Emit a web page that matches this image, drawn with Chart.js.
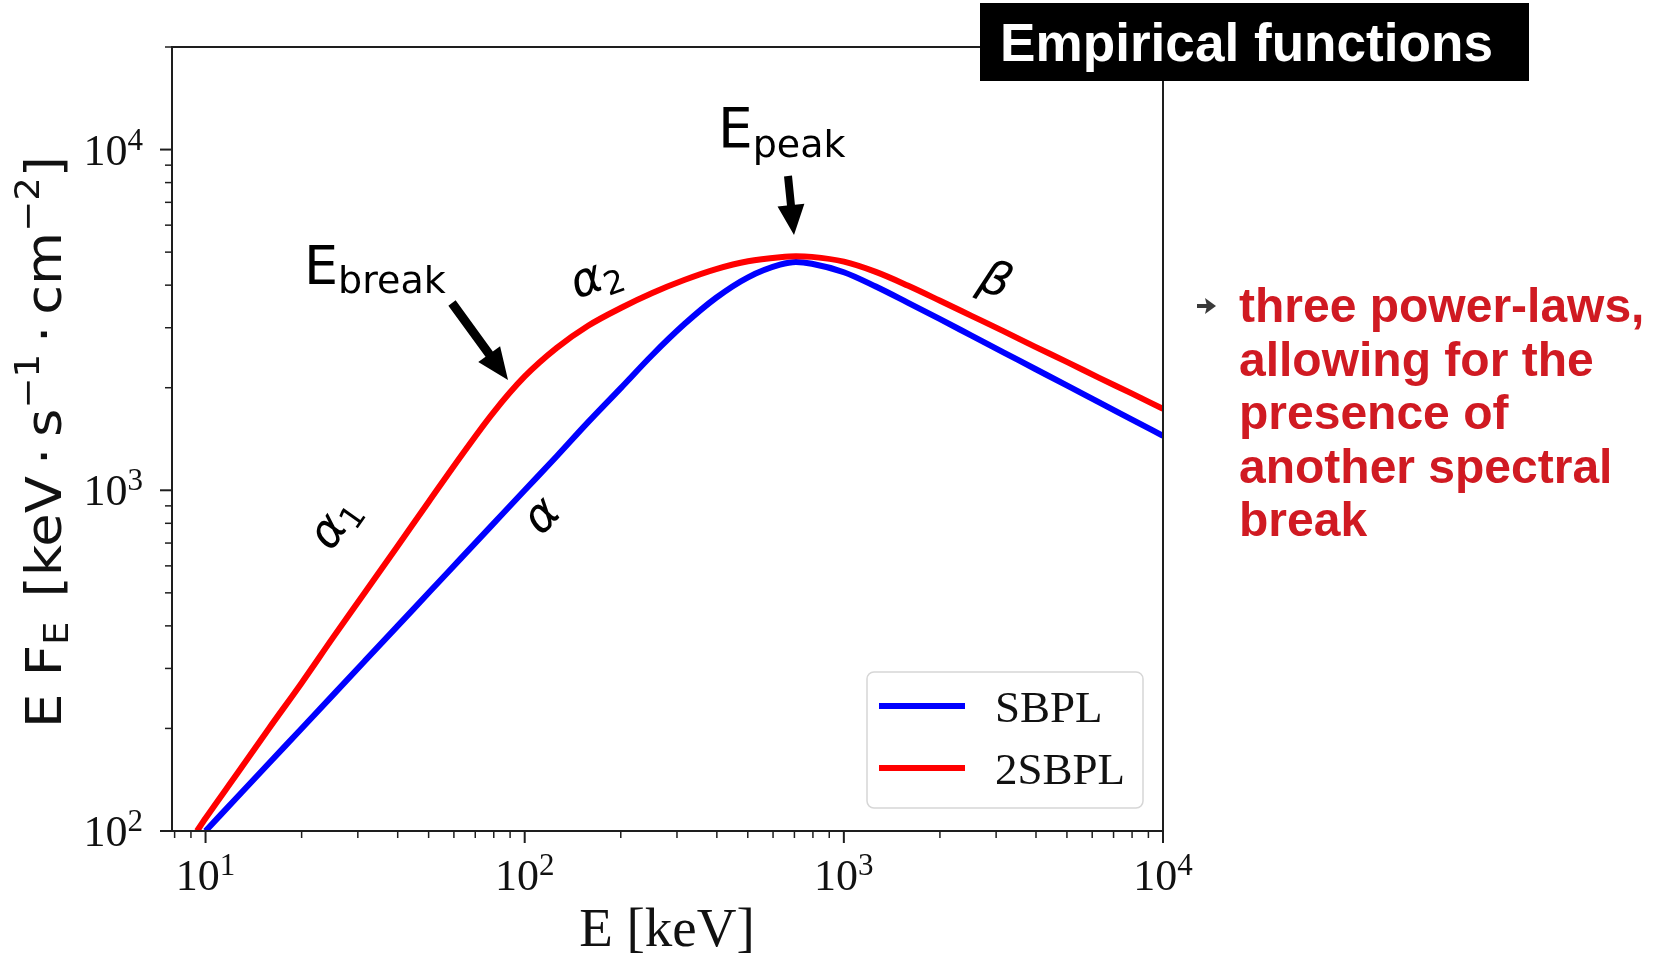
<!DOCTYPE html>
<html><head><meta charset="utf-8">
<script src="https://cdn.jsdelivr.net/npm/chart.js@4.4.0/dist/chart.umd.min.js"></script>
<style>html,body{margin:0;padding:0;background:#fff;overflow:hidden}#wrap{position:relative;width:1654px;height:956px}</style>
</head><body><div id="wrap"><canvas id="c" width="1654" height="956"></canvas></div>
<script>
// ---- data ----
const energySBPL = [10, 12.6, 15.8, 20, 25.1, 31.6, 39.8, 50.1, 63.1, 79.4, 100, 126, 158, 200, 251, 316, 398, 501, 631, 708, 794, 1000, 1259, 1585, 1995, 2512, 3162, 3981, 5012, 6310, 7943, 10000];
const fluxSBPL   = [100, 126, 158, 200, 251, 316, 398, 501, 631, 794, 1000, 1259, 1585, 1995, 2495, 3069, 3673, 4217, 4592, 4677, 4624, 4365, 3963, 3556, 3184, 2844, 2541, 2270, 2028, 1811, 1618, 1445];
const energy2SBPL = [9.4, 10, 12.6, 15.8, 20, 25.1, 31.6, 39.8, 50.1, 63.1, 79.4, 100, 126, 158, 200, 251, 316, 398, 501, 631, 708, 794, 1000, 1259, 1585, 1995, 2512, 3162, 3981, 5012, 6310, 7943, 10000];
const flux2SBPL   = [100, 109, 148, 200, 272, 370, 502, 682, 927, 1259, 1683, 2158, 2618, 3041, 3428, 3793, 4140, 4457, 4699, 4831, 4864, 4842, 4688, 4375, 3990, 3606, 3251, 2931, 2636, 2377, 2138, 1928, 1734];
const seriesLabels = ['SBPL', '2SBPL'];
const seriesColors = ['#0000ff', '#ff0000'];
const xTickValues = [10, 100, 1000, 10000];
const xTickExponents = ['1', '2', '3', '4'];
const yTickValues = [100, 1000, 10000];
const yTickExponents = ['2', '3', '4'];
const xRange = [7.85, 10000];
const yRange = [100, 20000];
const titleText = 'Empirical functions';
const noteLines = ['three power-laws,', 'allowing for the', 'presence of', 'another spectral', 'break'];

function richWidth(ctx, segs) {
  let w = 0;
  for (const s of segs) { ctx.font = s.font; w += ctx.measureText(s.t).width + (s.dx || 0); }
  return w;
}
function drawRich(ctx, segs, x, y, align) {
  const w = richWidth(ctx, segs);
  let cx = align === 'center' ? x - w / 2 : align === 'right' ? x - w : x;
  ctx.textAlign = 'left';
  for (const s of segs) {
    ctx.font = s.font;
    ctx.fillText(s.t, cx, y + (s.dy || 0));
    cx += ctx.measureText(s.t).width + (s.dx || 0);
  }
}
function drawArrow(ctx, x0, y0, x1, y1, shaftW, headL, headW) {
  const dx = x1 - x0, dy = y1 - y0, L = Math.hypot(dx, dy);
  const ux = dx / L, uy = dy / L, nx = -uy, ny = ux;
  const bx = x1 - ux * headL, by = y1 - uy * headL;
  ctx.beginPath();
  ctx.moveTo(x0 + nx * shaftW / 2, y0 + ny * shaftW / 2);
  ctx.lineTo(bx + nx * shaftW / 2, by + ny * shaftW / 2);
  ctx.lineTo(bx + nx * headW / 2, by + ny * headW / 2);
  ctx.lineTo(x1, y1);
  ctx.lineTo(bx - nx * headW / 2, by - ny * headW / 2);
  ctx.lineTo(bx - nx * shaftW / 2, by - ny * shaftW / 2);
  ctx.lineTo(x0 - nx * shaftW / 2, y0 - ny * shaftW / 2);
  ctx.closePath();
  ctx.fill();
}
function rotLabel(ctx, segs, cx, cy, deg, baseOff) {
  ctx.save();
  ctx.translate(cx, cy);
  ctx.rotate(deg * Math.PI / 180);
  drawRich(ctx, segs, 0, baseOff, 'center');
  ctx.restore();
}

const decor = {
  id: 'decor',
  afterDraw(chart) {
    const ctx = chart.ctx;
    const { left, right, top, bottom } = chart.chartArea;
    const xs = chart.scales.x, ys = chart.scales.y;
    ctx.save();
    ctx.fillStyle = '#000';
    ctx.strokeStyle = '#1e1e1e';
    ctx.textBaseline = 'alphabetic';

    // frame
    ctx.lineWidth = 2;
    ctx.strokeRect(left, top, right - left, bottom - top);

    // ticks (major + minor) from the library scales
    const tickSet = (min, max) => {
      const out = [];
      for (let d = Math.floor(Math.log10(min)); d <= Math.ceil(Math.log10(max)); d++) {
        for (let m = 1; m <= 9; m++) {
          const v = m * Math.pow(10, d);
          if (v >= min * 0.9999 && v <= max * 1.0001) out.push({ v, major: m === 1 });
        }
      }
      return out;
    };
    for (const t of tickSet(xs.min, xs.max)) {
      const px = xs.getPixelForValue(t.v);
      ctx.lineWidth = t.major ? 2 : 1.5;
      ctx.beginPath(); ctx.moveTo(px, bottom); ctx.lineTo(px, bottom + (t.major ? 12 : 7)); ctx.stroke();
    }
    for (const t of tickSet(ys.min, ys.max)) {
      const py = ys.getPixelForValue(t.v);
      ctx.lineWidth = t.major ? 2 : 1.5;
      ctx.beginPath(); ctx.moveTo(left, py); ctx.lineTo(left - (t.major ? 12 : 7), py); ctx.stroke();
    }

    // tick labels
    ctx.fillStyle = '#111';
    xTickValues.forEach((v, i) => {
      const px = xs.getPixelForValue(v);
      drawRich(ctx, [{ t: '10', font: '44px "Liberation Serif"' }, { t: xTickExponents[i], font: '31px "Liberation Serif"', dy: -15 }], px, 890, 'center');
    });
    yTickValues.forEach((v, i) => {
      const py = ys.getPixelForValue(v);
      drawRich(ctx, [{ t: '10', font: '44px "Liberation Serif"' }, { t: yTickExponents[i], font: '31px "Liberation Serif"', dy: -15 }], 143, py + 15, 'right');
    });

    // axis titles
    ctx.fillStyle = '#111';
    drawRich(ctx, [{ t: 'E [keV]', font: '55px "Liberation Serif"' }], 667, 946, 'center');
    const ySegs = [
      { t: 'E F', font: '50px "DejaVu Sans"' },
      { t: 'E', font: '34px "DejaVu Sans"', dy: 7, dx: 22 },
      { t: '[keV\u2009\u00b7\u2009s', font: '50px "DejaVu Sans"' },
      { t: '\u22121', font: '34px "DejaVu Sans"', dy: -22 },
      { t: '\u2009\u00b7\u2009cm', font: '50px "DejaVu Sans"' },
      { t: '\u22122', font: '34px "DejaVu Sans"', dy: -22 },
      { t: ']', font: '50px "DejaVu Sans"' }
    ];
    ctx.save();
    ctx.translate(61, 442);
    ctx.rotate(-Math.PI / 2);
    const yw = richWidth(ctx, ySegs);
    ctx.scale(572 / yw, 1);
    drawRich(ctx, ySegs, 0, 0, 'center');
    ctx.restore();

    // annotations
    ctx.fillStyle = '#000';
    drawRich(ctx, [{ t: 'E', font: '54px "DejaVu Sans"' }, { t: 'break', font: '38px "DejaVu Sans"', dy: 9 }], 304, 284, 'left');
    drawRich(ctx, [{ t: 'E', font: '55px "DejaVu Sans"' }, { t: 'peak', font: '38px "DejaVu Sans"', dy: 10 }], 718, 147, 'left');
    drawArrow(ctx, 452, 303, 508, 380, 9, 32, 27);
    drawArrow(ctx, 788, 176, 794, 235, 8, 30, 27);
    rotLabel(ctx, [{ t: '\u03b1', font: 'italic 47px "DejaVu Sans"' }, { t: '1', font: '32px "DejaVu Sans"', dy: 8 }], 337, 525, -55, 11);
    rotLabel(ctx, [{ t: '\u03b1', font: 'italic 47px "DejaVu Sans"' }], 544, 518, -47, 11);
    rotLabel(ctx, [{ t: '\u03b1', font: 'italic 47px "DejaVu Sans"' }, { t: '2', font: '32px "DejaVu Sans"', dy: 8 }], 597, 280, -20, 11);
    rotLabel(ctx, [{ t: '\u03b2', font: 'italic 47px "DejaVu Sans"' }], 996, 279, 22, 16);

    // legend
    const lx = 867, ly = 672, lw = 276, lh = 136;
    ctx.beginPath();
    ctx.roundRect(lx, ly, lw, lh, 7);
    ctx.fillStyle = 'rgba(255,255,255,0.85)';
    ctx.fill();
    ctx.strokeStyle = '#d6d6d6';
    ctx.lineWidth = 1.5;
    ctx.stroke();
    chart.data.datasets.forEach((ds, i) => {
      const yy = 706 + i * 62;
      ctx.strokeStyle = ds.borderColor;
      ctx.lineWidth = 6;
      ctx.beginPath(); ctx.moveTo(879, yy); ctx.lineTo(965, yy); ctx.stroke();
      ctx.fillStyle = '#111';
      drawRich(ctx, [{ t: ds.label, font: '45px "Liberation Serif"' }], 995, yy + 16, 'left');
    });

    // title box
    ctx.fillStyle = '#000';
    ctx.fillRect(980, 3, 549, 78);
    ctx.fillStyle = '#fff';
    ctx.font = 'bold 53px "Liberation Sans"';
    const tw = ctx.measureText(titleText).width;
    ctx.save();
    ctx.translate(1000, 61);
    ctx.scale(493 / tw, 1);
    ctx.fillText(titleText, 0, 0);
    ctx.restore();

    // side note
    ctx.strokeStyle = '#3a3a3a';
    ctx.fillStyle = '#3a3a3a';
    ctx.lineWidth = 4;
    ctx.lineCap = 'butt';
    ctx.beginPath(); ctx.moveTo(1197, 306); ctx.lineTo(1208, 306); ctx.stroke();
    ctx.beginPath(); ctx.moveTo(1205, 298); ctx.lineTo(1216, 306); ctx.lineTo(1205, 314); ctx.lineTo(1207, 306); ctx.closePath(); ctx.fill();
    ctx.fillStyle = '#d01a22';
    ctx.font = 'bold 48px "Liberation Sans"';
    noteLines.forEach((s, i) => ctx.fillText(s, 1239, 322 + i * 53.5));
    ctx.restore();
  }
};

new Chart(document.getElementById('c'), {
  type: 'line',
  data: {
    datasets: [
      { label: seriesLabels[0], data: energySBPL.map((e, i) => ({ x: e, y: fluxSBPL[i] })), borderColor: seriesColors[0], backgroundColor: seriesColors[0], borderWidth: 6, pointRadius: 0, cubicInterpolationMode: 'monotone', fill: false, clip: 0, order: 1 },
      { label: seriesLabels[1], data: energy2SBPL.map((e, i) => ({ x: e, y: flux2SBPL[i] })), borderColor: seriesColors[1], backgroundColor: seriesColors[1], borderWidth: 6, pointRadius: 0, cubicInterpolationMode: 'monotone', fill: false, clip: 0, order: 0 }
    ]
  },
  options: {
    responsive: false,
    animation: false,
    devicePixelRatio: 1,
    layout: { padding: { left: 172, top: 47, right: 491, bottom: 125 } },
    scales: {
      x: { type: 'logarithmic', min: xRange[0], max: xRange[1], display: false },
      y: { type: 'logarithmic', min: yRange[0], max: yRange[1], display: false }
    },
    plugins: { legend: { display: false }, tooltip: { enabled: false } }
  },
  plugins: [decor]
});
</script></body></html>
